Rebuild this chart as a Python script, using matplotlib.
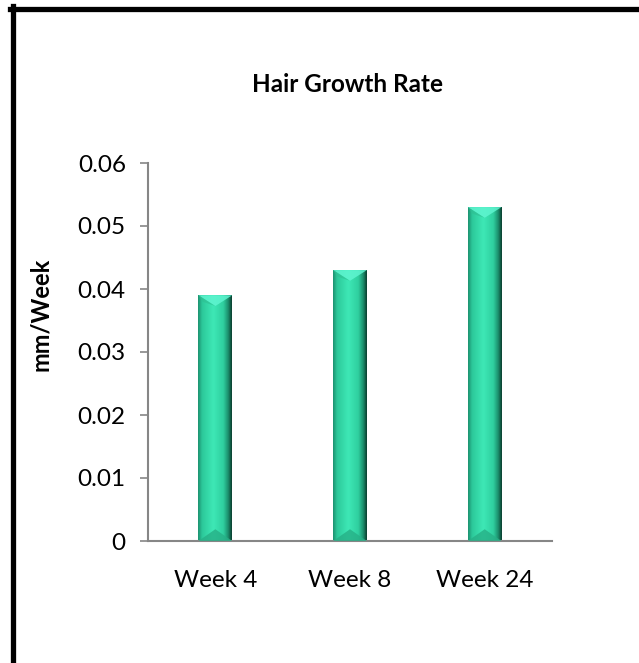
import matplotlib
matplotlib.use('Agg')
import matplotlib.pyplot as plt
import numpy as np
from matplotlib.colors import LinearSegmentedColormap
from matplotlib.patches import Polygon
from matplotlib.lines import Line2D

plt.rcParams['font.family'] = ['Lato', 'DejaVu Sans']

categories = ['Week 4', 'Week 8', 'Week 24']
growth = [0.039, 0.043, 0.053]
yticks = [0, 0.01, 0.02, 0.03, 0.04, 0.05, 0.06]
ytick_labels = ['0', '0.01', '0.02', '0.03', '0.04', '0.05', '0.06']

fig = plt.figure(figsize=(6.39, 6.63), dpi=100)
ax = fig.add_axes([148/639, 1-541/663, 404/639, 378/663])

x = np.arange(len(categories))
bars = ax.bar(x, growth, width=0.25, color='none', edgecolor='none', zorder=2)

# horizontal gradient for the bevelled bar look
cmap = LinearSegmentedColormap.from_list('bar', [
    (0.0, '#1c8f6f'), (0.12, '#2cc99a'), (0.45, '#3ee8b6'),
    (0.75, '#2fcf9f'), (0.9, '#1a8a69'), (1.0, '#0a3a2c')])
grad = np.linspace(0, 1, 256).reshape(1, -1)

ax.set_xlim(-0.5, 2.5)
ax.set_ylim(0, 0.06)

for b in bars:
    x0, w, h = b.get_x(), b.get_width(), b.get_height()
    im = ax.imshow(grad, cmap=cmap, aspect='auto', extent=(x0, x0 + w, 0, h),
                   zorder=2, interpolation='bicubic')
    im.set_clip_path(b)
    # top bevel: light triangle
    dy = 0.0017
    ax.add_patch(Polygon([(x0, h), (x0 + w, h), (x0 + w / 2, h - dy)],
                         closed=True, facecolor='#5ff5d0', edgecolor='none',
                         alpha=0.85, zorder=3))
    ax.add_patch(Polygon([(x0, h), (x0 + w * 0.12, h - dy * 0.6), (x0 + w / 2, h - dy)],
                         closed=True, facecolor='#2fbf92', edgecolor='none',
                         alpha=0.6, zorder=3))
    # bottom bevel: darker triangle
    ax.add_patch(Polygon([(x0, 0), (x0 + w, 0), (x0 + w / 2, dy * 1.1)],
                         closed=True, facecolor='#26b086', edgecolor='none',
                         alpha=0.8, zorder=3))

ax.set_xticks(x)
ax.set_xticklabels(categories, fontsize=17.5)
ax.set_yticks(yticks)
ax.set_yticklabels(ytick_labels, fontsize=17.5)
ax.tick_params(axis='x', length=0, pad=21)
ax.tick_params(axis='y', length=6, color='#868686', width=1.2, pad=10)

for s in ['top', 'right']:
    ax.spines[s].set_visible(False)
for s in ['left', 'bottom']:
    ax.spines[s].set_color('#868686')
    ax.spines[s].set_linewidth(1.5)

ax.set_ylabel('mm/Week', fontsize=17, fontweight='bold')
ax.yaxis.set_label_coords((52 - 148) / 404, 0.60)
fig.text(348/639, 1-84/663, 'Hair Growth Rate', ha='center', va='center',
         fontsize=17.5, fontweight='bold')

# outer frame (only left and top visible in the crop)
fig.add_artist(Line2D([12.5/639, 12.5/639], [0, 1-6/663], color='black',
                      linewidth=3.8, transform=fig.transFigure))
fig.add_artist(Line2D([10/639, 1], [1-8.5/663, 1-8.5/663], color='black',
                      linewidth=3.8, transform=fig.transFigure))

fig.savefig('out.png', dpi=100)
